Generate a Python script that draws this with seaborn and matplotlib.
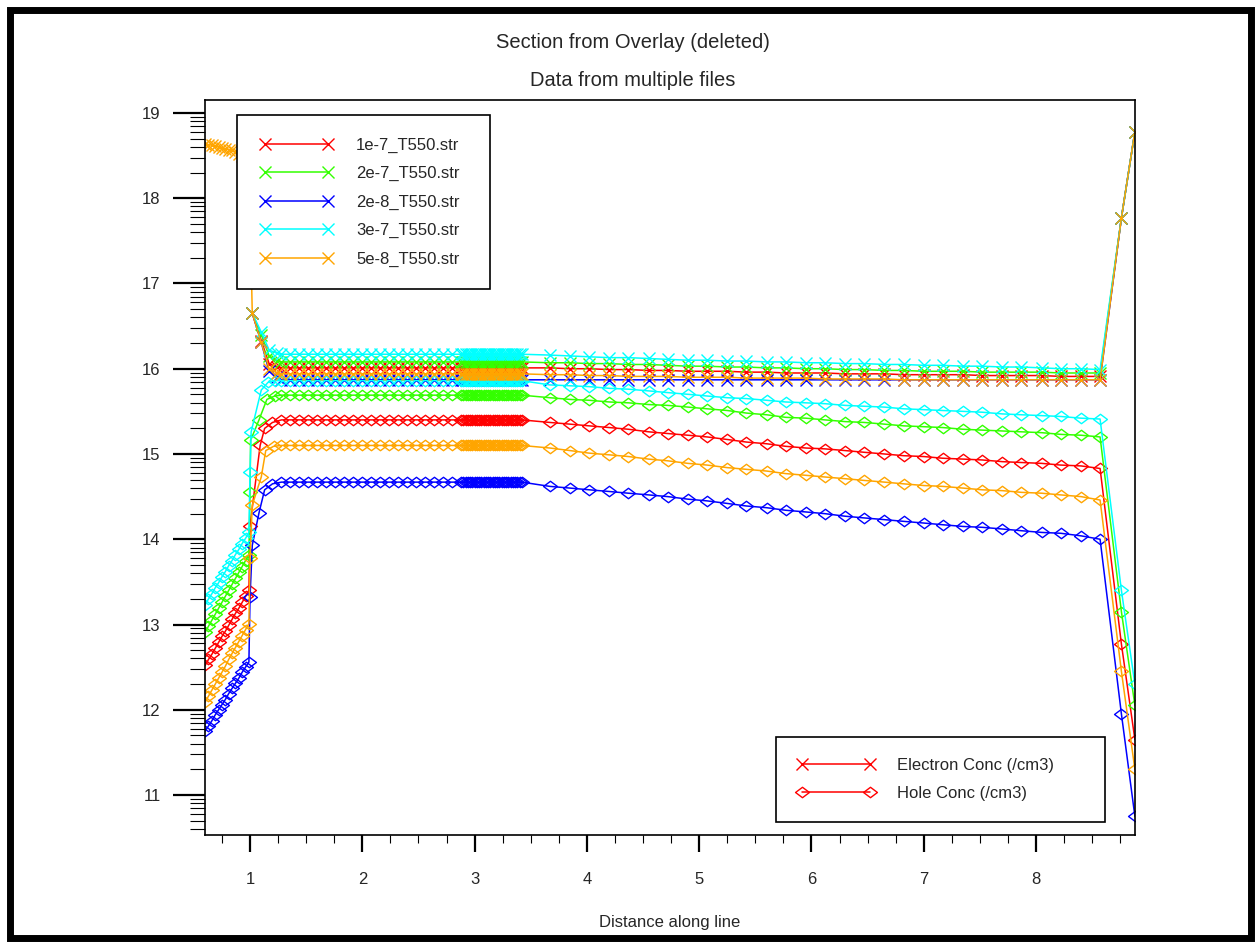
import numpy as np
import matplotlib
matplotlib.use("Agg")
import matplotlib.pyplot as plt
from matplotlib.lines import Line2D
from matplotlib.path import Path
from matplotlib.patches import Rectangle
from matplotlib.ticker import FixedLocator, MultipleLocator, NullFormatter
import seaborn as sns

# ---------------------------------------------------------------- data
files = ["1e-7_T550.str", "2e-7_T550.str", "2e-8_T550.str", "3e-7_T550.str", "5e-8_T550.str"]
colors = ["#ff0000", "#33ff00", "#0000ff", "#00ffff", "#ffa500"]
x_ticks = [1, 2, 3, 4, 5, 6, 7, 8]
y_ticks = [11, 12, 13, 14, 15, 16, 17, 18, 19]

# mesh nodes along the cut line (shared by all structures)
x_left = [0.60, 0.63, 0.66, 0.69, 0.72, 0.75, 0.78, 0.81, 0.84, 0.87, 0.90, 0.93, 0.96, 0.99]
x_plateau = [1.28, 1.36, 1.44, 1.52, 1.60, 1.68, 1.76, 1.84, 1.92, 2.00, 2.08, 2.16, 2.24,
             2.32, 2.40, 2.48, 2.56, 2.64, 2.72, 2.80, 2.88]
x_band = [2.90, 2.92, 2.94, 2.96, 2.98, 3.00, 3.02, 3.04, 3.06, 3.08, 3.10, 3.12, 3.14,
          3.16, 3.18, 3.20, 3.22, 3.24, 3.26, 3.28, 3.30, 3.32, 3.34, 3.36, 3.38, 3.40, 3.42]
x_decline = [3.67, 3.85, 4.02, 4.20, 4.37, 4.55, 4.72, 4.90, 5.07, 5.25, 5.42, 5.60, 5.77,
             5.95, 6.12, 6.30, 6.47, 6.65, 6.82, 7.00, 7.17, 7.35, 7.52, 7.70, 7.87, 8.05,
             8.22, 8.40, 8.57]
x_right = [8.76, 8.88]
x_elec_step = [1.02, 1.10, 1.17, 1.24]

# hole concentration, log10(/cm3)
hole_left_1e7 = [12.52, 12.59, 12.65, 12.72, 12.79, 12.86, 12.92, 12.99, 13.06, 13.13, 13.19, 13.26, 13.33, 13.40]
hole_step_x_1e7 = [1.00, 1.09, 1.13, 1.20]
hole_step_1e7 = [14.16, 15.10, 15.30, 15.37]
hole_flat_1e7 = 15.40
hole_decline_1e7 = [15.37, 15.35, 15.33, 15.31, 15.29, 15.26, 15.24, 15.22, 15.20, 15.17,
                    15.14, 15.12, 15.09, 15.07, 15.06, 15.04, 15.02, 15.00, 14.98, 14.97,
                    14.95, 14.94, 14.93, 14.91, 14.90, 14.89, 14.87, 14.86, 14.83]
hole_right_1e7 = [12.77, 11.65]

hole_left_2e7 = [12.91, 12.98, 13.05, 13.12, 13.19, 13.26, 13.33, 13.40, 13.47, 13.54, 13.61, 13.68, 13.75, 13.82]
hole_step_x_2e7 = [1.00, 1.005, 1.08, 1.15, 1.22]
hole_step_2e7 = [14.55, 15.16, 15.40, 15.64, 15.68]
hole_flat_2e7 = 15.69
hole_decline_2e7 = [15.66, 15.64, 15.63, 15.61, 15.60, 15.58, 15.57, 15.55, 15.53, 15.51,
                    15.48, 15.46, 15.43, 15.42, 15.40, 15.38, 15.37, 15.35, 15.33, 15.32,
                    15.31, 15.29, 15.28, 15.27, 15.26, 15.25, 15.23, 15.22, 15.20]
hole_right_2e7 = [13.15, 12.05]

hole_left_2e8 = [11.75, 11.81, 11.87, 11.94, 12.00, 12.06, 12.12, 12.19, 12.25, 12.31, 12.37, 12.44, 12.50, 12.56]
hole_step_x_2e8 = [1.00, 1.02, 1.08, 1.13, 1.20]
hole_step_2e8 = [13.32, 13.93, 14.31, 14.58, 14.65]
hole_flat_2e8 = 14.67
hole_decline_2e8 = [14.62, 14.60, 14.58, 14.56, 14.54, 14.52, 14.50, 14.47, 14.45, 14.42,
                    14.39, 14.37, 14.34, 14.32, 14.30, 14.27, 14.25, 14.23, 14.21, 14.19,
                    14.17, 14.15, 14.14, 14.12, 14.10, 14.08, 14.07, 14.04, 14.00]
hole_right_2e8 = [11.95, 10.75]

hole_left_3e7 = [13.23, 13.30, 13.36, 13.43, 13.49, 13.56, 13.62, 13.69, 13.75, 13.82, 13.88, 13.95, 14.01, 14.08]
hole_step_x_3e7 = [1.00, 1.01, 1.10, 1.16, 1.22]
hole_step_3e7 = [14.79, 15.26, 15.75, 15.84, 15.86]
hole_flat_3e7 = 15.86
hole_decline_3e7 = [15.81, 15.80, 15.79, 15.77, 15.76, 15.74, 15.72, 15.70, 15.68, 15.66,
                    15.65, 15.63, 15.61, 15.60, 15.59, 15.57, 15.56, 15.55, 15.53, 15.52,
                    15.51, 15.50, 15.49, 15.47, 15.46, 15.45, 15.44, 15.42, 15.41]
hole_right_3e7 = [13.40, 12.30]

hole_left_5e8 = [12.09, 12.16, 12.23, 12.30, 12.37, 12.44, 12.51, 12.59, 12.66, 12.73, 12.80, 12.87, 12.94, 13.01]
hole_step_x_5e8 = [1.00, 1.02, 1.10, 1.14, 1.21]
hole_step_5e8 = [13.78, 14.40, 14.73, 15.04, 15.09]
hole_flat_5e8 = 15.10
hole_decline_5e8 = [15.07, 15.04, 15.01, 14.99, 14.97, 14.94, 14.92, 14.89, 14.87, 14.84,
                    14.82, 14.80, 14.77, 14.75, 14.73, 14.71, 14.69, 14.67, 14.65, 14.63,
                    14.62, 14.60, 14.58, 14.57, 14.55, 14.54, 14.52, 14.50, 14.46]
hole_right_5e8 = [12.45, 11.30]

# electron concentration, log10(/cm3)
elec_left_5e8 = [18.64, 18.63, 18.62, 18.61, 18.60, 18.59, 18.58, 18.57, 18.56, 18.54, 18.52, 18.50, 18.48, 18.45]
elec_step_1e7 = [16.65, 16.33, 16.06, 16.02]
elec_step_2e7 = [16.65, 16.40, 16.15, 16.09]
elec_step_2e8 = [16.65, 16.31, 15.97, 15.90]
elec_step_3e7 = [16.65, 16.43, 16.22, 16.18]
elec_step_5e8 = [16.65, 16.31, 16.00, 15.95]
elec_flat_1e7 = 16.01
elec_flat_2e7 = 16.08
elec_flat_2e8 = 15.87
elec_flat_3e7 = 16.17
elec_flat_5e8 = 15.94
elec_decline_1e7 = [16.01, 16.00, 16.00, 15.99, 15.99, 15.98, 15.98, 15.97, 15.97, 15.97,
                    15.96, 15.96, 15.95, 15.95, 15.95, 15.94, 15.94, 15.94, 15.93, 15.93,
                    15.93, 15.93, 15.92, 15.92, 15.92, 15.92, 15.91, 15.91, 15.91]
elec_decline_2e7 = [16.07, 16.07, 16.06, 16.06, 16.05, 16.05, 16.04, 16.03, 16.03, 16.02,
                    16.02, 16.01, 16.01, 16.00, 16.00, 15.99, 15.99, 15.98, 15.98, 15.97,
                    15.97, 15.97, 15.96, 15.96, 15.96, 15.96, 15.95, 15.95, 15.95]
elec_decline_2e8 = [15.87] * 29
elec_decline_3e7 = [16.16, 16.15, 16.14, 16.13, 16.13, 16.12, 16.11, 16.10, 16.10, 16.09,
                    16.09, 16.08, 16.08, 16.07, 16.07, 16.06, 16.06, 16.05, 16.05, 16.04,
                    16.04, 16.03, 16.03, 16.02, 16.02, 16.01, 16.00, 16.00, 15.99]
elec_decline_5e8 = [15.93, 15.93, 15.92, 15.92, 15.91, 15.91, 15.91, 15.90, 15.90, 15.90,
                    15.89, 15.89, 15.89, 15.89, 15.88, 15.88, 15.88, 15.88, 15.87, 15.87,
                    15.87, 15.87, 15.87, 15.87, 15.87, 15.87, 15.87, 15.87, 15.87]
elec_right = [17.77, 18.78]

# ---------------------------------------------------------------- assembly
n_flat = len(x_plateau) + len(x_band)


def hole_curve(left, step_x, step, flat, decline, right):
    xs = x_left + step_x + x_plateau + x_band + x_decline + x_right
    ys = left + step + [flat] * n_flat + decline + right
    return xs, ys


def elec_curve(step, flat, decline, left=None):
    xs = x_elec_step + x_plateau + x_band + x_decline + x_right
    ys = step + [flat] * n_flat + decline + elec_right
    if left is not None:
        xs = x_left + xs
        ys = left + ys
    return xs, ys


curves = [
    (elec_curve(elec_step_1e7, elec_flat_1e7, elec_decline_1e7),
     hole_curve(hole_left_1e7, hole_step_x_1e7, hole_step_1e7, hole_flat_1e7, hole_decline_1e7, hole_right_1e7)),
    (elec_curve(elec_step_2e7, elec_flat_2e7, elec_decline_2e7),
     hole_curve(hole_left_2e7, hole_step_x_2e7, hole_step_2e7, hole_flat_2e7, hole_decline_2e7, hole_right_2e7)),
    (elec_curve(elec_step_2e8, elec_flat_2e8, elec_decline_2e8),
     hole_curve(hole_left_2e8, hole_step_x_2e8, hole_step_2e8, hole_flat_2e8, hole_decline_2e8, hole_right_2e8)),
    (elec_curve(elec_step_3e7, elec_flat_3e7, elec_decline_3e7),
     hole_curve(hole_left_3e7, hole_step_x_3e7, hole_step_3e7, hole_flat_3e7, hole_decline_3e7, hole_right_3e7)),
    (elec_curve(elec_step_5e8, elec_flat_5e8, elec_decline_5e8, left=elec_left_5e8),
     hole_curve(hole_left_5e8, hole_step_x_5e8, hole_step_5e8, hole_flat_5e8, hole_decline_5e8, hole_right_5e8)),
]

# ---------------------------------------------------------------- style
sns.set_style("ticks")
plt.rcParams["font.family"] = ["Liberation Sans", "DejaVu Sans"]

# open diamond, wider than tall
DIAMOND = Path([(-1.0, 0.0), (0.0, 0.75), (1.0, 0.0), (0.0, -0.75), (-1.0, 0.0)],
               [Path.MOVETO, Path.LINETO, Path.LINETO, Path.LINETO, Path.CLOSEPOLY])
elec_style = dict(marker="x", markersize=8, markeredgewidth=1.0)
hole_style = dict(marker=DIAMOND, markersize=10, markeredgewidth=1.0, markerfacecolor="none")

fig = plt.figure(figsize=(12.6, 9.44), dpi=100)
W, H = 1260.0, 944.0
ax = fig.add_axes([205 / W, 1 - 835 / H, 930 / W, 735 / H])

for (elec, hole), c in zip(curves, colors):
    sns.lineplot(x=elec[0], y=elec[1], ax=ax, color=c, lw=1.1, estimator=None, sort=False,
                 markeredgecolor=c, legend=False, **elec_style)
    sns.lineplot(x=hole[0], y=hole[1], ax=ax, color=c, lw=1.1, estimator=None, sort=False,
                 markeredgecolor=c, legend=False, **hole_style)

ax.set_xlim(0.599, 8.881)
ax.set_ylim(10.531, 19.152)
ax.set_facecolor("white")
for s in ax.spines.values():
    s.set_color("black")
    s.set_linewidth(1.2)

# axis ticks: log-style minor ticks on the log10 concentration axis
ax.yaxis.set_major_locator(FixedLocator(y_ticks))
ax.yaxis.set_minor_locator(FixedLocator([n + np.log10(k) for n in range(10, 19) for k in range(2, 10)]))
ax.yaxis.set_minor_formatter(NullFormatter())
ax.xaxis.set_major_locator(FixedLocator(x_ticks))
ax.xaxis.set_minor_locator(MultipleLocator(0.25))
ax.xaxis.set_minor_formatter(NullFormatter())
ax.tick_params(axis="y", which="major", direction="out", length=23, width=1.6, pad=9,
               labelsize=12, left=True, right=False, color="black")
ax.tick_params(axis="y", which="minor", direction="out", length=11, width=0.8,
               left=True, right=False, color="black")
ax.tick_params(axis="x", which="major", direction="out", length=12, width=1.6, pad=15,
               labelsize=12, bottom=True, top=False, color="black")
ax.tick_params(axis="x", which="minor", direction="out", length=6, width=0.8,
               bottom=True, top=False, color="black")
ax.set_yticklabels([str(v) for v in y_ticks])
ax.set_xticklabels([str(v) for v in x_ticks])
ax.set_xlabel("Distance along line", fontsize=12)
ax.xaxis.set_label_coords(0.5, (835 - 923) / 735.0)
ax.xaxis.label.set_va("center")
ax.set_ylabel("")

# titles
fig.text(633 / W, 1 - 42 / H, "Section from Overlay (deleted)", ha="center", va="center", fontsize=14.5)
fig.text(633 / W, 1 - 80 / H, "Data from multiple files", ha="center", va="center", fontsize=14.5)

# legends
file_handles = [Line2D([], [], color=c, lw=1.1, markeredgecolor=c, **elec_style) for c in colors]
leg1 = fig.legend(file_handles, files, loc="upper left",
                  bbox_to_anchor=(237 / W, 1 - 115 / H, 253 / W, 0), bbox_transform=fig.transFigure,
                  mode="expand", borderaxespad=0, numpoints=2, fontsize=12, frameon=True,
                  fancybox=False, framealpha=1, facecolor="white", edgecolor="black",
                  borderpad=1.35, handlelength=4.4, handletextpad=1.4, labelspacing=0.8)
leg1.get_frame().set_linewidth(1.2)

qty_handles = [Line2D([], [], color="#ff0000", lw=1.1, markeredgecolor="#ff0000", **elec_style),
               Line2D([], [], color="#ff0000", lw=1.1, markeredgecolor="#ff0000", **hole_style)]
leg2 = fig.legend(qty_handles, ["Electron Conc (/cm3)", "Hole Conc (/cm3)"], loc="upper left",
                  bbox_to_anchor=(776 / W, 1 - 737 / H, 329 / W, 0), bbox_transform=fig.transFigure,
                  mode="expand", borderaxespad=0, numpoints=2, fontsize=12, frameon=True,
                  fancybox=False, framealpha=1, facecolor="white", edgecolor="black",
                  borderpad=1.25, handlelength=4.7, handletextpad=1.3, labelspacing=0.78)
leg2.get_frame().set_linewidth(1.2)

# window frame
fig.add_artist(Rectangle((10 / W, 1 - 938 / H), 1241 / W, 928 / H, transform=fig.transFigure,
                         fill=False, edgecolor="black", linewidth=5.0, zorder=10))

fig.savefig("out.png", dpi=100, facecolor="white")
